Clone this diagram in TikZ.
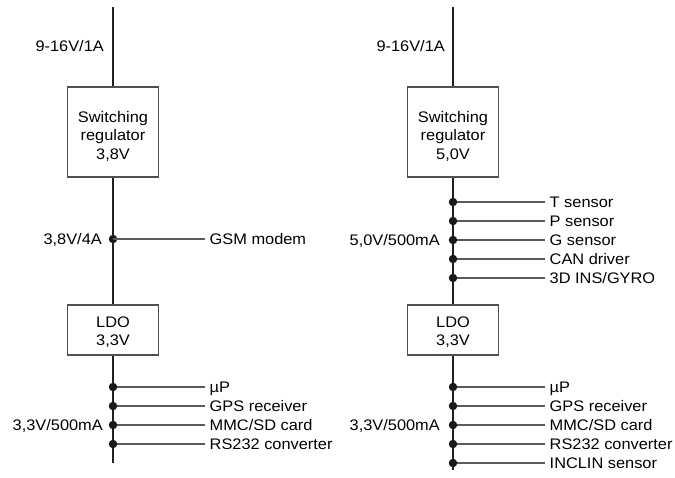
\documentclass[tikz,border=0pt]{standalone}
\usepackage{fontspec}
\setmainfont[FakeStretch=1.07]{Liberation Sans}
\definecolor{boxgray}{HTML}{505050}
\definecolor{tapgray}{HTML}{5A5A5A}
\definecolor{wirec}{HTML}{202020}
\tikzset{
  regbox/.style={draw=boxgray, line width=1.1pt, minimum width=91pt, inner sep=0pt},
  boxtxt/.style={align=center, inner sep=0pt},
  wire/.style={draw=wirec, line width=1.1pt},
  tap/.style={draw=tapgray, line width=1.3pt},
  jdot/.style={circle, fill=black!90, inner sep=0pt, minimum size=8.5pt},
  lbl/.style={anchor=west, inner xsep=4.5pt, inner ysep=0pt, text height=10.7pt, text depth=0pt},
  vlbl/.style={anchor=east, inner xsep=0pt, inner ysep=0pt, text height=10.7pt, text depth=0pt},
}
\begin{document}
\begin{tikzpicture}[x=1pt,y=-1pt,font=\fontsize{15.3}{18.5}\selectfont]
\useasboundingbox (0,0) rectangle (675,477);
% ---------- left column ----------
\coordinate (t1) at (113,7);
\node[regbox, minimum height=90pt] (sw1) at (113,132) {};
\node[boxtxt] (sw1t) at (113,136) {Switching\\regulator\\3,8V};
\node[regbox, minimum height=50pt] (ldo1) at (113,330) {};
\node[boxtxt] (ldo1t) at (113,332) {LDO\\3,3V};
\coordinate (e1) at (113,463);
\draw[wire] (t1) -- (sw1.north);
\draw[wire] (sw1.south) -- (ldo1.north);
\draw[wire] (ldo1.south) -- (e1);
\node[vlbl] (in1) at (104,46) {9-16V/1A};
\node[vlbl] (v1) at (102,239) {3,8V/4A};
\node[vlbl] (v2) at (103,425) {3,3V/500mA};
\node[jdot] (g1) at (113,239) {};
\node[lbl] (gsm) at (205,239) {GSM modem};
\draw[tap] (g1.center) -- (gsm.west);
\foreach \n/\y/\t in {a/387/{µP}, b/406/{GPS receiver}, c/425/{MMC/SD card}, d/444/{RS232 converter}}{
  \node[lbl] (L\n) at (205,\y) {\t};
  \draw[tap] (113,\y) coordinate (LD\n) -- (L\n.west);
  \node[jdot] (Ld\n) at (LD\n) {};
}
% ---------- right column ----------
\coordinate (t2) at (453,7);
\node[regbox, minimum height=90pt] (sw2) at (453,132) {};
\node[boxtxt] (sw2t) at (453,136) {Switching\\regulator\\5,0V};
\node[regbox, minimum height=50pt] (ldo2) at (453,330) {};
\node[boxtxt] (ldo2t) at (453,332) {LDO\\3,3V};
\coordinate (e2) at (453,470);
\draw[wire] (t2) -- (sw2.north);
\draw[wire] (sw2.south) -- (ldo2.north);
\draw[wire] (ldo2.south) -- (e2);
\node[vlbl] (in2) at (445,46) {9-16V/1A};
\node[vlbl] (v3) at (440,240) {5,0V/500mA};
\node[vlbl] (v4) at (440,425) {3,3V/500mA};
\foreach \n/\y/\t in {a/202/{T sensor}, b/221/{P sensor}, c/240/{G sensor}, d/259/{CAN driver}, e/278/{3D INS/GYRO}}{
  \node[lbl] (R\n) at (545,\y) {\t};
  \draw[tap] (453,\y) coordinate (RD\n) -- (R\n.west);
  \node[jdot] (Rd\n) at (RD\n) {};
}
\foreach \n/\y/\t in {a/387/{µP}, b/406/{GPS receiver}, c/425/{MMC/SD card}, d/444/{RS232 converter}, e/463/{INCLIN sensor}}{
  \node[lbl] (S\n) at (545,\y) {\t};
  \draw[tap] (453,\y) coordinate (SD\n) -- (S\n.west);
  \node[jdot] (Sd\n) at (SD\n) {};
}
\end{tikzpicture}
\end{document}
